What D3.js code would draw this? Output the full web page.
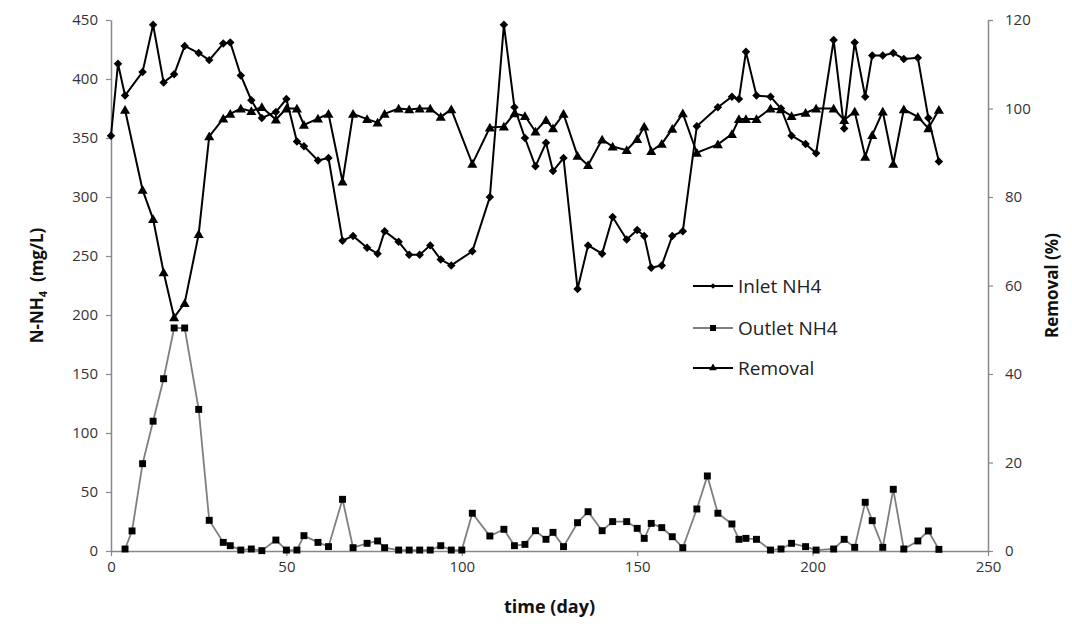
<!DOCTYPE html>
<html>
<head>
<meta charset="utf-8">
<script src="https://cdn.jsdelivr.net/npm/d3@7"></script>
<style>
  body { margin: 0; background: #fff; }
  text { font-family: "Open Sans", "DejaVu Sans", sans-serif; }
</style>
</head>
<body>
<div id="chart"></div>
<script>
// values
var inletDay = [0, 2, 4, 9, 12, 15, 18, 21, 25, 28, 32, 34, 37, 40, 43, 47, 50, 53, 55, 59, 62,
  66, 69, 73, 76, 78, 82, 85, 88, 91, 94, 97, 103, 108, 112, 115, 118, 121, 124, 126, 129,
  133, 136, 140, 143, 147, 150, 152, 154, 157, 160, 163, 167, 173, 177, 179, 181, 184, 188,
  191, 194, 198, 201, 206, 209, 212, 215, 217, 220, 223, 226, 230, 233, 236];
var inletNH4 = [352, 413, 386, 406, 446, 397, 404, 428, 422, 416, 430, 431, 403, 382, 367, 372, 383, 347, 343, 331, 333,
  263, 267, 257, 252, 271, 262, 251, 251, 259, 247, 242, 254, 300, 446, 376, 350, 326, 346, 322, 333,
  222, 259, 252, 283, 264, 272, 267, 240, 242, 267, 271, 360, 376, 385, 383, 423, 386, 385,
  375, 352, 345, 337, 433, 358, 431, 385, 420, 420, 422, 417, 418, 367, 330];

var outletDay = [4, 6, 9, 12, 15, 18, 21, 25, 28, 32, 34, 37, 40, 43, 47, 50, 53, 55, 59, 62,
  66, 69, 73, 76, 78, 82, 85, 88, 91, 94, 97, 100, 103, 108, 112, 115, 118, 121, 124, 126, 129,
  133, 136, 140, 143, 147, 150, 152, 154, 157, 160, 163, 167, 170, 173, 177, 179, 181, 184, 188,
  191, 194, 198, 201, 206, 209, 212, 215, 217, 220, 223, 226, 230, 233, 236];
var outletNH4 = [1.7, 17, 74, 110, 146, 189, 189, 120, 26, 7.3, 4.5, 0.8, 1.7, 0.3, 9.3, 0.8, 0.8, 13, 7.3, 3.7,
  43.8, 2.8, 6.5, 8.5, 2.8, 0.8, 0.8, 0.8, 0.8, 4.5, 0.8, 0.8, 32, 12.7, 18.4, 4.5, 5.6, 17.2, 9.9, 15.8, 3.7,
  24, 33.3, 17.2, 24.9, 24.9, 19.2, 10.7, 23.4, 19.8, 12.1, 2.8, 35.6, 63.6, 32, 22.9, 9.9, 10.7, 9.9, 0.8,
  1.7, 6.5, 3.7, 0.8, 1.7, 9.9, 3.1, 41.3, 25.7, 3.1, 52.3, 1.7, 8.5, 17, 1.4];

var removalDay = [4, 9, 12, 15, 18, 21, 25, 28, 32, 34, 37, 40, 43, 47, 50, 53, 55, 59, 62,
  66, 69, 73, 76, 78, 82, 85, 88, 91, 94, 97, 103, 108, 112, 115, 118, 121, 124, 126, 129,
  133, 136, 140, 143, 147, 150, 152, 154, 157, 160, 163, 167, 173, 177, 179, 181, 184, 188,
  191, 194, 198, 201, 206, 209, 212, 215, 217, 220, 223, 226, 230, 233, 236];
var removal = [99.7, 81.6, 75, 63, 52.8, 56, 71.6, 93.7, 97.7, 98.8, 100, 99.4, 100.3, 97.5, 100, 100, 96.3, 97.7, 98.8,
  83.5, 98.8, 97.6, 96.8, 98.8, 100, 99.8, 100, 100, 98.1, 99.8, 87.5, 95.7, 95.9, 98.9, 98.3, 94.8, 97.4, 95.5, 98.8,
  89.3, 87.2, 93, 91.4, 90.6, 93.1, 95.9, 90.4, 92, 95.4, 98.9, 90, 91.9, 94.2, 97.6, 97.6, 97.6, 100,
  99.8, 98.3, 99, 100, 100, 97.4, 99.3, 89.1, 94, 99.3, 87.5, 99.8, 98.1, 95.5, 99.7];

var xTicks = [0, 50, 100, 150, 200, 250];
var leftTicks = [0, 50, 100, 150, 200, 250, 300, 350, 400, 450];
var rightTicks = [0, 20, 40, 60, 80, 100, 120];
var legendNames = ["Inlet NH4", "Outlet NH4", "Removal"];

// chart size
var svgWidth = 1072;
var svgHeight = 628;
var margin = { top: 20, right: 84, bottom: 77, left: 111 };
var width = svgWidth - margin.left - margin.right;
var height = svgHeight - margin.top - margin.bottom;

var svg = d3.select("#chart").append("svg")
    .attr("width", svgWidth)
    .attr("height", svgHeight);

var chartGroup = svg.append("g")
    .attr("transform", `translate(${margin.left}, ${margin.top})`);

// scales
var xScale = d3.scaleLinear().domain([0, 250]).range([0, width]);
var yLeft = d3.scaleLinear().domain([0, 450]).range([height, 0]);
var yRight = d3.scaleLinear().domain([0, 120]).range([height, 0]);

// axes
var axisColor = "#888";
function styleAxis(g) {
    g.select(".domain").attr("stroke", axisColor).attr("stroke-width", 1.5);
    g.selectAll(".tick line").attr("stroke", axisColor).attr("stroke-width", 1.2);
    g.selectAll(".tick text").attr("fill", "#333").attr("font-size", "15px")
        .style("font-family", "'Open Sans', sans-serif");
}

chartGroup.append("g")
    .attr("transform", `translate(0, ${height})`)
    .call(d3.axisBottom(xScale).tickValues(xTicks).tickSize(5).tickSizeOuter(0).tickPadding(5))
    .call(styleAxis);

chartGroup.append("g")
    .call(d3.axisLeft(yLeft).tickValues(leftTicks).tickSize(5).tickSizeOuter(0).tickPadding(8))
    .call(styleAxis);

chartGroup.append("g")
    .attr("transform", `translate(${width}, 0)`)
    .call(d3.axisRight(yRight).tickValues(rightTicks).tickSize(5).tickSizeOuter(0).tickPadding(12))
    .call(styleAxis);

// series
var inletData = inletDay.map((d, i) => ({ x: d, y: inletNH4[i] }));
var outletData = outletDay.map((d, i) => ({ x: d, y: outletNH4[i] }));
var removalData = removalDay.map((d, i) => ({ x: d, y: removal[i] }));

var lineLeft = d3.line().x(d => xScale(d.x)).y(d => yLeft(d.y));
var lineRight = d3.line().x(d => xScale(d.x)).y(d => yRight(d.y));

var diamond = d3.symbol().type(d3.symbolSquare).size(36)();
var square = d3.symbol().type(d3.symbolSquare).size(48)();
var triangle = d3.symbol().type(d3.symbolTriangle).size(44)();

// inlet
chartGroup.append("path")
    .datum(inletData)
    .attr("d", lineLeft)
    .attr("fill", "none")
    .attr("stroke", "#000")
    .attr("stroke-width", 2);
chartGroup.selectAll(".inlet")
    .data(inletData)
    .enter()
    .append("path")
    .attr("class", "inlet")
    .attr("d", diamond)
    .attr("transform", d => `translate(${xScale(d.x)}, ${yLeft(d.y)}) rotate(45)`)
    .attr("fill", "#000");

// outlet
chartGroup.append("path")
    .datum(outletData)
    .attr("d", lineLeft)
    .attr("fill", "none")
    .attr("stroke", "#7f7f7f")
    .attr("stroke-width", 1.8);
chartGroup.selectAll(".outlet")
    .data(outletData)
    .enter()
    .append("path")
    .attr("class", "outlet")
    .attr("d", square)
    .attr("transform", d => `translate(${xScale(d.x)}, ${yLeft(d.y)})`)
    .attr("fill", "#000");

// removal (right axis)
chartGroup.append("path")
    .datum(removalData)
    .attr("d", lineRight)
    .attr("fill", "none")
    .attr("stroke", "#000")
    .attr("stroke-width", 2);
chartGroup.selectAll(".removal")
    .data(removalData)
    .enter()
    .append("path")
    .attr("class", "removal")
    .attr("d", triangle)
    .attr("transform", d => `translate(${xScale(d.x)}, ${yRight(d.y) + 1})`)
    .attr("fill", "#000");

// legend
var legendMarks = [
    d3.symbol().type(d3.symbolSquare).size(16)(),
    d3.symbol().type(d3.symbolSquare).size(36)(),
    d3.symbol().type(d3.symbolTriangle).size(26)()
];
var legendRot = [45, 0, 0];
var legendStroke = ["#000", "#7f7f7f", "#000"];
var legendY = [286, 328, 368];

var legend = svg.selectAll(".legend")
    .data(legendNames)
    .enter()
    .append("g")
    .attr("class", "legend")
    .attr("transform", (d, i) => `translate(693, ${legendY[i]})`);

legend.append("line")
    .attr("x1", 0).attr("x2", 40)
    .attr("stroke", (d, i) => legendStroke[i])
    .attr("stroke-width", 2);
legend.append("path")
    .attr("d", (d, i) => legendMarks[i])
    .attr("transform", (d, i) => `translate(20, 0) rotate(${legendRot[i]})`)
    .attr("fill", "#000");
legend.append("text")
    .attr("x", 45)
    .attr("dy", "0.35em")
    .attr("font-size", "19px")
    .attr("fill", "#222")
    .text(d => d);

// axis titles
var leftTitle = svg.append("text")
    .attr("transform", `translate(43, ${margin.top + height / 2}) rotate(-90)`)
    .attr("text-anchor", "middle")
    .attr("font-size", "17px")
    .attr("font-weight", "bold")
    .attr("fill", "#111");
leftTitle.append("tspan").text("N-NH");
leftTitle.append("tspan").text("4").attr("font-size", "11px").attr("dy", "4");
leftTitle.append("tspan").text("  (mg/L)").attr("dy", "-4").style("white-space", "pre");

svg.append("text")
    .attr("transform", `translate(1058, ${margin.top + height / 2}) rotate(-90)`)
    .attr("text-anchor", "middle")
    .attr("font-size", "17px")
    .attr("font-weight", "bold")
    .attr("fill", "#111")
    .text("Removal (%)");

svg.append("text")
    .attr("x", margin.left + width / 2)
    .attr("y", 613)
    .attr("text-anchor", "middle")
    .attr("font-size", "18px")
    .attr("font-weight", "bold")
    .attr("fill", "#111")
    .text("time (day)");
</script>
</body>
</html>
